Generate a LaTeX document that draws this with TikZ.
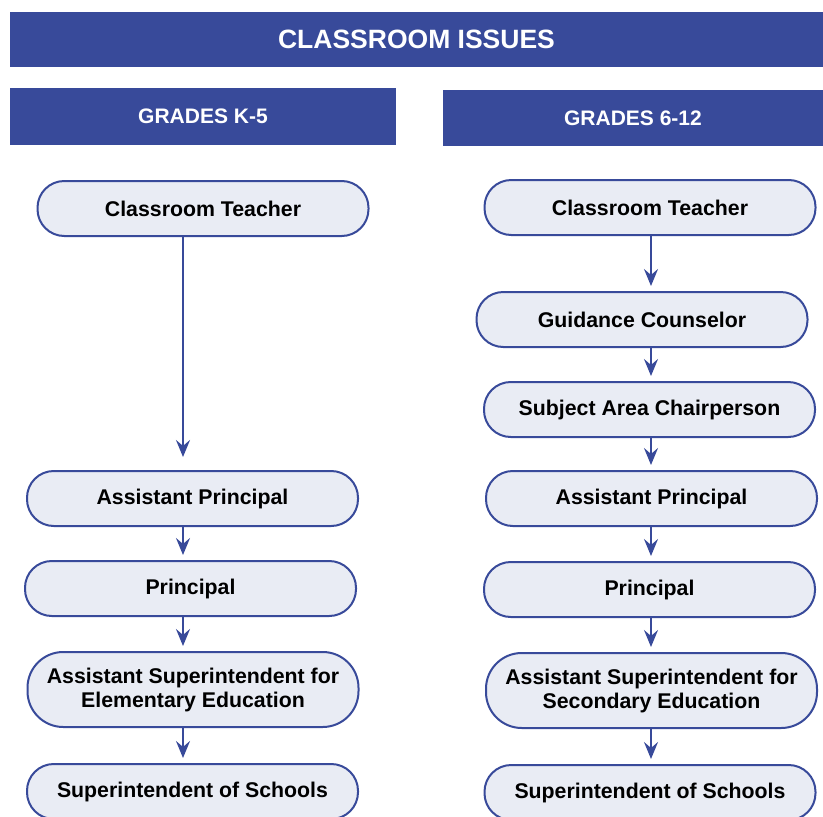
\documentclass[tikz,border=0pt]{standalone}
\usepackage{fontspec}
\setmainfont{Liberation Sans}
\usepackage{tikz}
\usetikzlibrary{arrows.meta}
\definecolor{issueblue}{HTML}{384A9A}
\definecolor{officefill}{HTML}{E9ECF4}
\tikzstyle{banner}=[fill=issueblue,text=white,inner sep=0pt,font=\fontsize{21}{25}\selectfont\bfseries]
\tikzstyle{office}=[draw=issueblue,fill=officefill,line width=2pt,minimum width=331pt,inner sep=0pt,align=center,font=\fontsize{21.3}{24}\selectfont\bfseries]
\tikzstyle{route} = [draw=issueblue,line width=2.3pt,-{Stealth[length=17pt,width=14pt,inset=6pt]},shorten >=5pt]

\begin{document}
\begin{tikzpicture}[x=1pt,y=-1pt]
    \useasboundingbox (0,0) rectangle (823,817);
    % First the banners on top
    \node[banner,minimum width=813pt,minimum height=55pt,font=\fontsize{26.5}{30}\selectfont\bfseries] (title) at (416.5,39.5) {CLASSROOM ISSUES};
    \node[banner,minimum width=386pt,minimum height=57pt] (kfive) at (203,116.5) {GRADES K-5};
    \node[banner,minimum width=380pt,minimum height=56pt] (sixtwelve) at (633,118) {GRADES 6-12};

    % Then the offices, K-5 on the left
    \foreach \pos/\name/\h/\txt in {{(203,208.5)/kteacher/55/Classroom Teacher}, {(192.5,498.5)/kap/55/Assistant Principal}, {(190.5,588.5)/kprin/55/Principal}, {(193,689.5)/kasst/75/Assistant Superintendent for\\Elementary Education}, {(192.5,791.5)/ksup/55/Superintendent of Schools}}
        \node[office,minimum height=\h pt,rounded corners=\h*0.45pt+2pt] (\name) at \pos {\txt};

    % and 6-12 on the right
    \foreach \pos/\name/\h/\txt in {{(650,207.5)/steacher/55/Classroom Teacher}, {(642,319.5)/scouns/55/Guidance Counselor}, {(649.5,409.5)/schair/55/Subject Area Chairperson}, {(651.5,498.5)/sap/55/Assistant Principal}, {(649.5,589.5)/sprin/55/Principal}, {(651.5,690.5)/sasst/75/Assistant Superintendent for\\Secondary Education}, {(650,792.5)/ssup/55/Superintendent of Schools}}
        \node[office,minimum height=\h pt,rounded corners=\h*0.45pt+2pt] (\name) at \pos {\txt};

    % Connect offices with arrows
    \coordinate (kline) at (183,0);
    \coordinate (sline) at (651,0);
    \path[route,shorten >=13pt] (kteacher.south -| kline) -- (kap.north -| kline);
    \foreach \source/ \dest in {kap/kprin, kprin/kasst, kasst/ksup}
        \path[route] (\source.south -| kline) -- (\dest.north -| kline);
    \foreach \source/ \dest in {steacher/scouns, scouns/schair, schair/sap, sap/sprin, sprin/sasst, sasst/ssup}
        \path[route] (\source.south -| sline) -- (\dest.north -| sline);

\end{tikzpicture}
\end{document}
